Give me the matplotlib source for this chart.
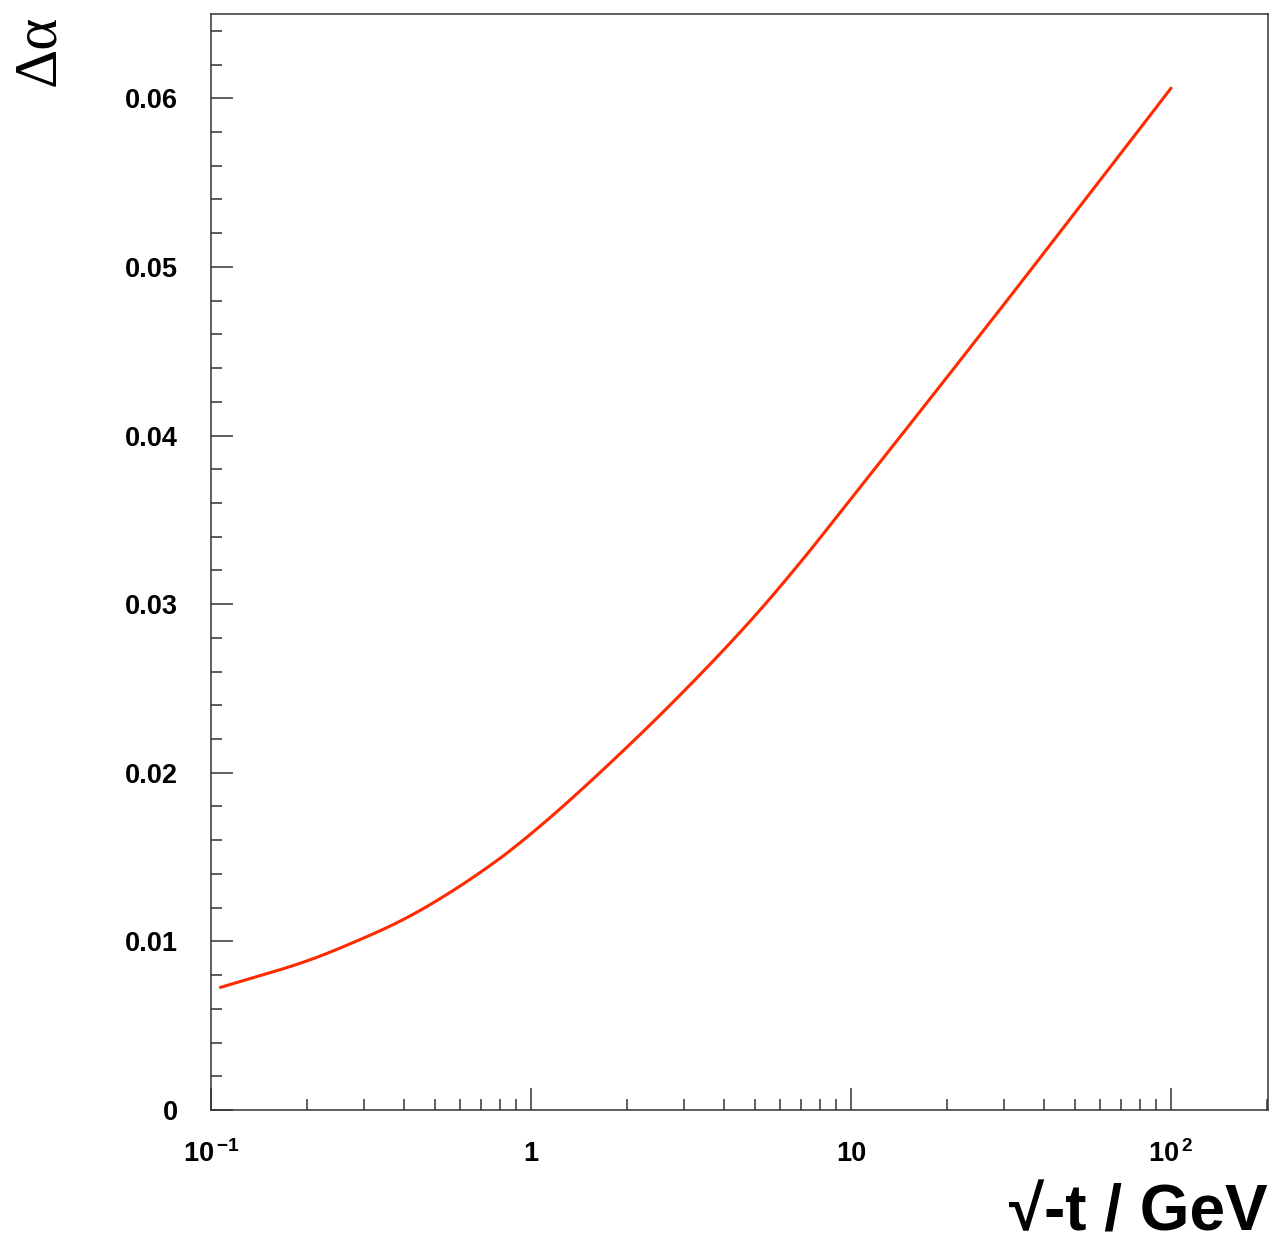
import numpy as np
import matplotlib.pyplot as plt
from matplotlib.ticker import FixedLocator, FuncFormatter, LogLocator, NullFormatter

# curve: sqrt(-t) in GeV vs delta alpha
sqrt_t = [0.107, 0.2, 0.3, 0.389, 0.5, 0.79, 1.067, 1.64, 2.92, 4.95, 7.1,
          9.35, 13.55, 19.8, 32.8, 46.0, 65.1, 100.0]
delta_alpha = [0.00727, 0.00885, 0.0102, 0.01119, 0.01234, 0.01485, 0.01683,
               0.0200, 0.0246, 0.0292, 0.0327, 0.03555, 0.03941, 0.04338,
               0.0487, 0.0523, 0.0560, 0.0606]

y_ticks = [0, 0.01, 0.02, 0.03, 0.04, 0.05, 0.06]
x_ticks = [0.1, 1, 10, 100]
x_labels = [r'$\mathbf{10}^{\,\mathbf{-1}}$', '1', '10', r'$\mathbf{10}^{\,\mathbf{2}}$']

plt.rcParams['font.family'] = ['Liberation Sans', 'DejaVu Sans']
plt.rcParams['mathtext.fontset'] = 'custom'
plt.rcParams['mathtext.rm'] = 'Liberation Sans:bold'
plt.rcParams['mathtext.bf'] = 'Liberation Sans:bold'


def pchip(x, y, xn):
    # monotone cubic through the read points (Fritsch-Carlson)
    x = np.asarray(x, float)
    y = np.asarray(y, float)
    h = np.diff(x)
    d = np.diff(y) / h
    m = np.zeros_like(y)
    for i in range(1, len(y) - 1):
        if d[i - 1] * d[i] > 0:
            w1 = 2 * h[i] + h[i - 1]
            w2 = h[i] + 2 * h[i - 1]
            m[i] = (w1 + w2) / (w1 / d[i - 1] + w2 / d[i])
    m[0] = d[0]
    m[-1] = d[-1]
    idx = np.clip(np.searchsorted(x, xn) - 1, 0, len(h) - 1)
    t = (xn - x[idx]) / h[idx]
    h00 = 2 * t**3 - 3 * t**2 + 1
    h10 = t**3 - 2 * t**2 + t
    h01 = -2 * t**3 + 3 * t**2
    h11 = t**3 - t**2
    return h00 * y[idx] + h10 * h[idx] * m[idx] + h01 * y[idx + 1] + h11 * h[idx] * m[idx + 1]


W, H = 1278, 1243
fig = plt.figure(figsize=(W / 100, H / 100), dpi=100)
ax = fig.add_axes([211 / W, 1 - 1110 / H, (1268 - 211) / W, (1110 - 14) / H])

lx = np.log10(sqrt_t)
xs = np.linspace(lx[0], lx[-1], 500)
ax.plot(10 ** xs, pchip(lx, delta_alpha, xs), color='#ff2a00', lw=2.2,
        solid_capstyle='round')

ax.set_xscale('log')
ax.set_xlim(0.1, 201)
ax.set_ylim(0, 0.065)

ax.xaxis.set_major_locator(FixedLocator(x_ticks))
ax.xaxis.set_major_formatter(FuncFormatter(
    lambda v, p: x_labels[int(np.argmin([abs(np.log10(v) - np.log10(t)) for t in x_ticks]))]))
ax.xaxis.set_minor_locator(LogLocator(base=10, subs=np.arange(2, 10), numticks=20))
ax.xaxis.set_minor_formatter(NullFormatter())

ax.yaxis.set_major_locator(FixedLocator(y_ticks))
ax.yaxis.set_minor_locator(FixedLocator(np.arange(0, 0.0651, 0.002)))
ax.yaxis.set_major_formatter(FuncFormatter(lambda v, p: '0' if v == 0 else '%.2f' % v))

ax.tick_params(which='both', direction='in', top=False, right=False,
               color='#333333', width=1.1)
ax.tick_params(which='major', length=16)
ax.tick_params(which='minor', length=8)
ax.tick_params(axis='y', labelsize=19.5, pad=24)
ax.tick_params(axis='x', labelsize=19.5, pad=22)
for lab in ax.get_xticklabels() + ax.get_yticklabels():
    lab.set_fontweight('bold')
for s in ax.spines.values():
    s.set_linewidth(1.1)
    s.set_color('#333333')

fig.text(39 / W, 1 - 15 / H, 'Δα', rotation=90, ha='center', va='top',
         family='Liberation Serif', fontsize=44)
fig.text(1268 / W, 1 - 1231 / H, '√-t / GeV', ha='right', va='baseline',
         fontsize=46, fontweight='bold')

fig.savefig('out.png', dpi=100)
